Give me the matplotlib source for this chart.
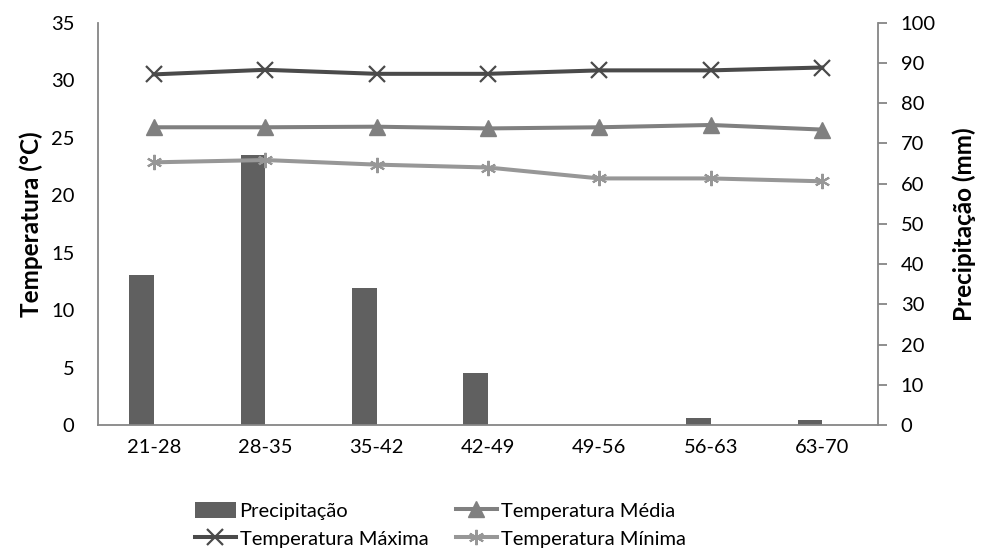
import matplotlib.pyplot as plt
import numpy as np

# --- Data ---
periods = ["21-28", "28-35", "35-42", "42-49", "49-56", "56-63", "63-70"]
precipitacao = [37.2, 67.0, 34.1, 13.0, 0.0, 1.7, 1.2]
temp_maxima = [30.5, 30.9, 30.55, 30.55, 30.85, 30.85, 31.1]
temp_media = [25.9, 25.9, 25.95, 25.8, 25.9, 26.1, 25.7]
temp_minima = [22.85, 23.05, 22.65, 22.4, 21.45, 21.45, 21.2]

plt.rcParams['font.family'] = ['Lato', 'DejaVu Sans']
FS = 14.5
LABEL_FS = 17.5
AXIS_GREY = '#868686'

fig = plt.figure(figsize=(9.86, 5.53), dpi=100)
ax = fig.add_axes([0.0994, 0.2315, 0.791, 0.7275])
ax2 = ax.twinx()

x = np.arange(len(periods))

# bars go on the secondary axis, drawn behind the lines
ax2.set_zorder(ax.get_zorder() - 1)
ax.patch.set_visible(False)
bars = ax2.bar(x, precipitacao, width=-0.22, align='edge', color='#606060',
               label='Precipitação')

lw = 2.9
l_max, = ax.plot(x, temp_maxima, color='#4a4a4a', lw=lw, marker='x', ms=11,
                 mew=1.6, label='Temperatura Máxima')
l_med, = ax.plot(x, temp_media, color='#808080', lw=lw, marker='^', ms=11,
                 label='Temperatura Média')
l_min, = ax.plot(x, temp_minima, color='#979797', lw=lw, marker=(6, 2, 0), ms=11,
                 mew=1.5, label='Temperatura Mínima')

ax.set_xlim(-0.5, len(periods) - 0.5)
ax.set_ylim(0, 35)
ax.set_yticks(range(0, 36, 5))
ax2.set_ylim(0, 100)
ax2.set_yticks(range(0, 101, 10))

ax.set_xticks(x)
ax.set_xticklabels(periods)

for a in (ax, ax2):
    a.spines['top'].set_visible(False)
    for s in ('left', 'right', 'bottom'):
        a.spines[s].set_color(AXIS_GREY)
        a.spines[s].set_linewidth(1.3)
ax.spines['right'].set_visible(False)
ax2.spines['left'].set_visible(False)
ax2.spines['bottom'].set_visible(False)

ax.tick_params(axis='x', length=0, pad=10, labelsize=FS)
ax.tick_params(axis='y', length=0, pad=17, labelsize=FS)
ax2.tick_params(axis='y', length=6.5, width=1.3, color=AXIS_GREY, pad=10,
                labelsize=FS)

ax.set_ylabel('Temperatura (°C)', fontsize=LABEL_FS, fontweight='bold', labelpad=6)
ax2.set_ylabel('Precipitação (mm)', fontsize=LABEL_FS, fontweight='bold', labelpad=12)

handles = [bars, l_max, l_med, l_min]
fig.legend(handles, [h.get_label() for h in handles], ncol=2, frameon=False,
           loc='upper left', bbox_to_anchor=(0.198, 0.092), borderpad=0,
           borderaxespad=0, fontsize=FS, handlelength=2.0, handleheight=0.8,
           handletextpad=0.2, columnspacing=1.4, labelspacing=0.5)

fig.savefig('out.png', dpi=100)
